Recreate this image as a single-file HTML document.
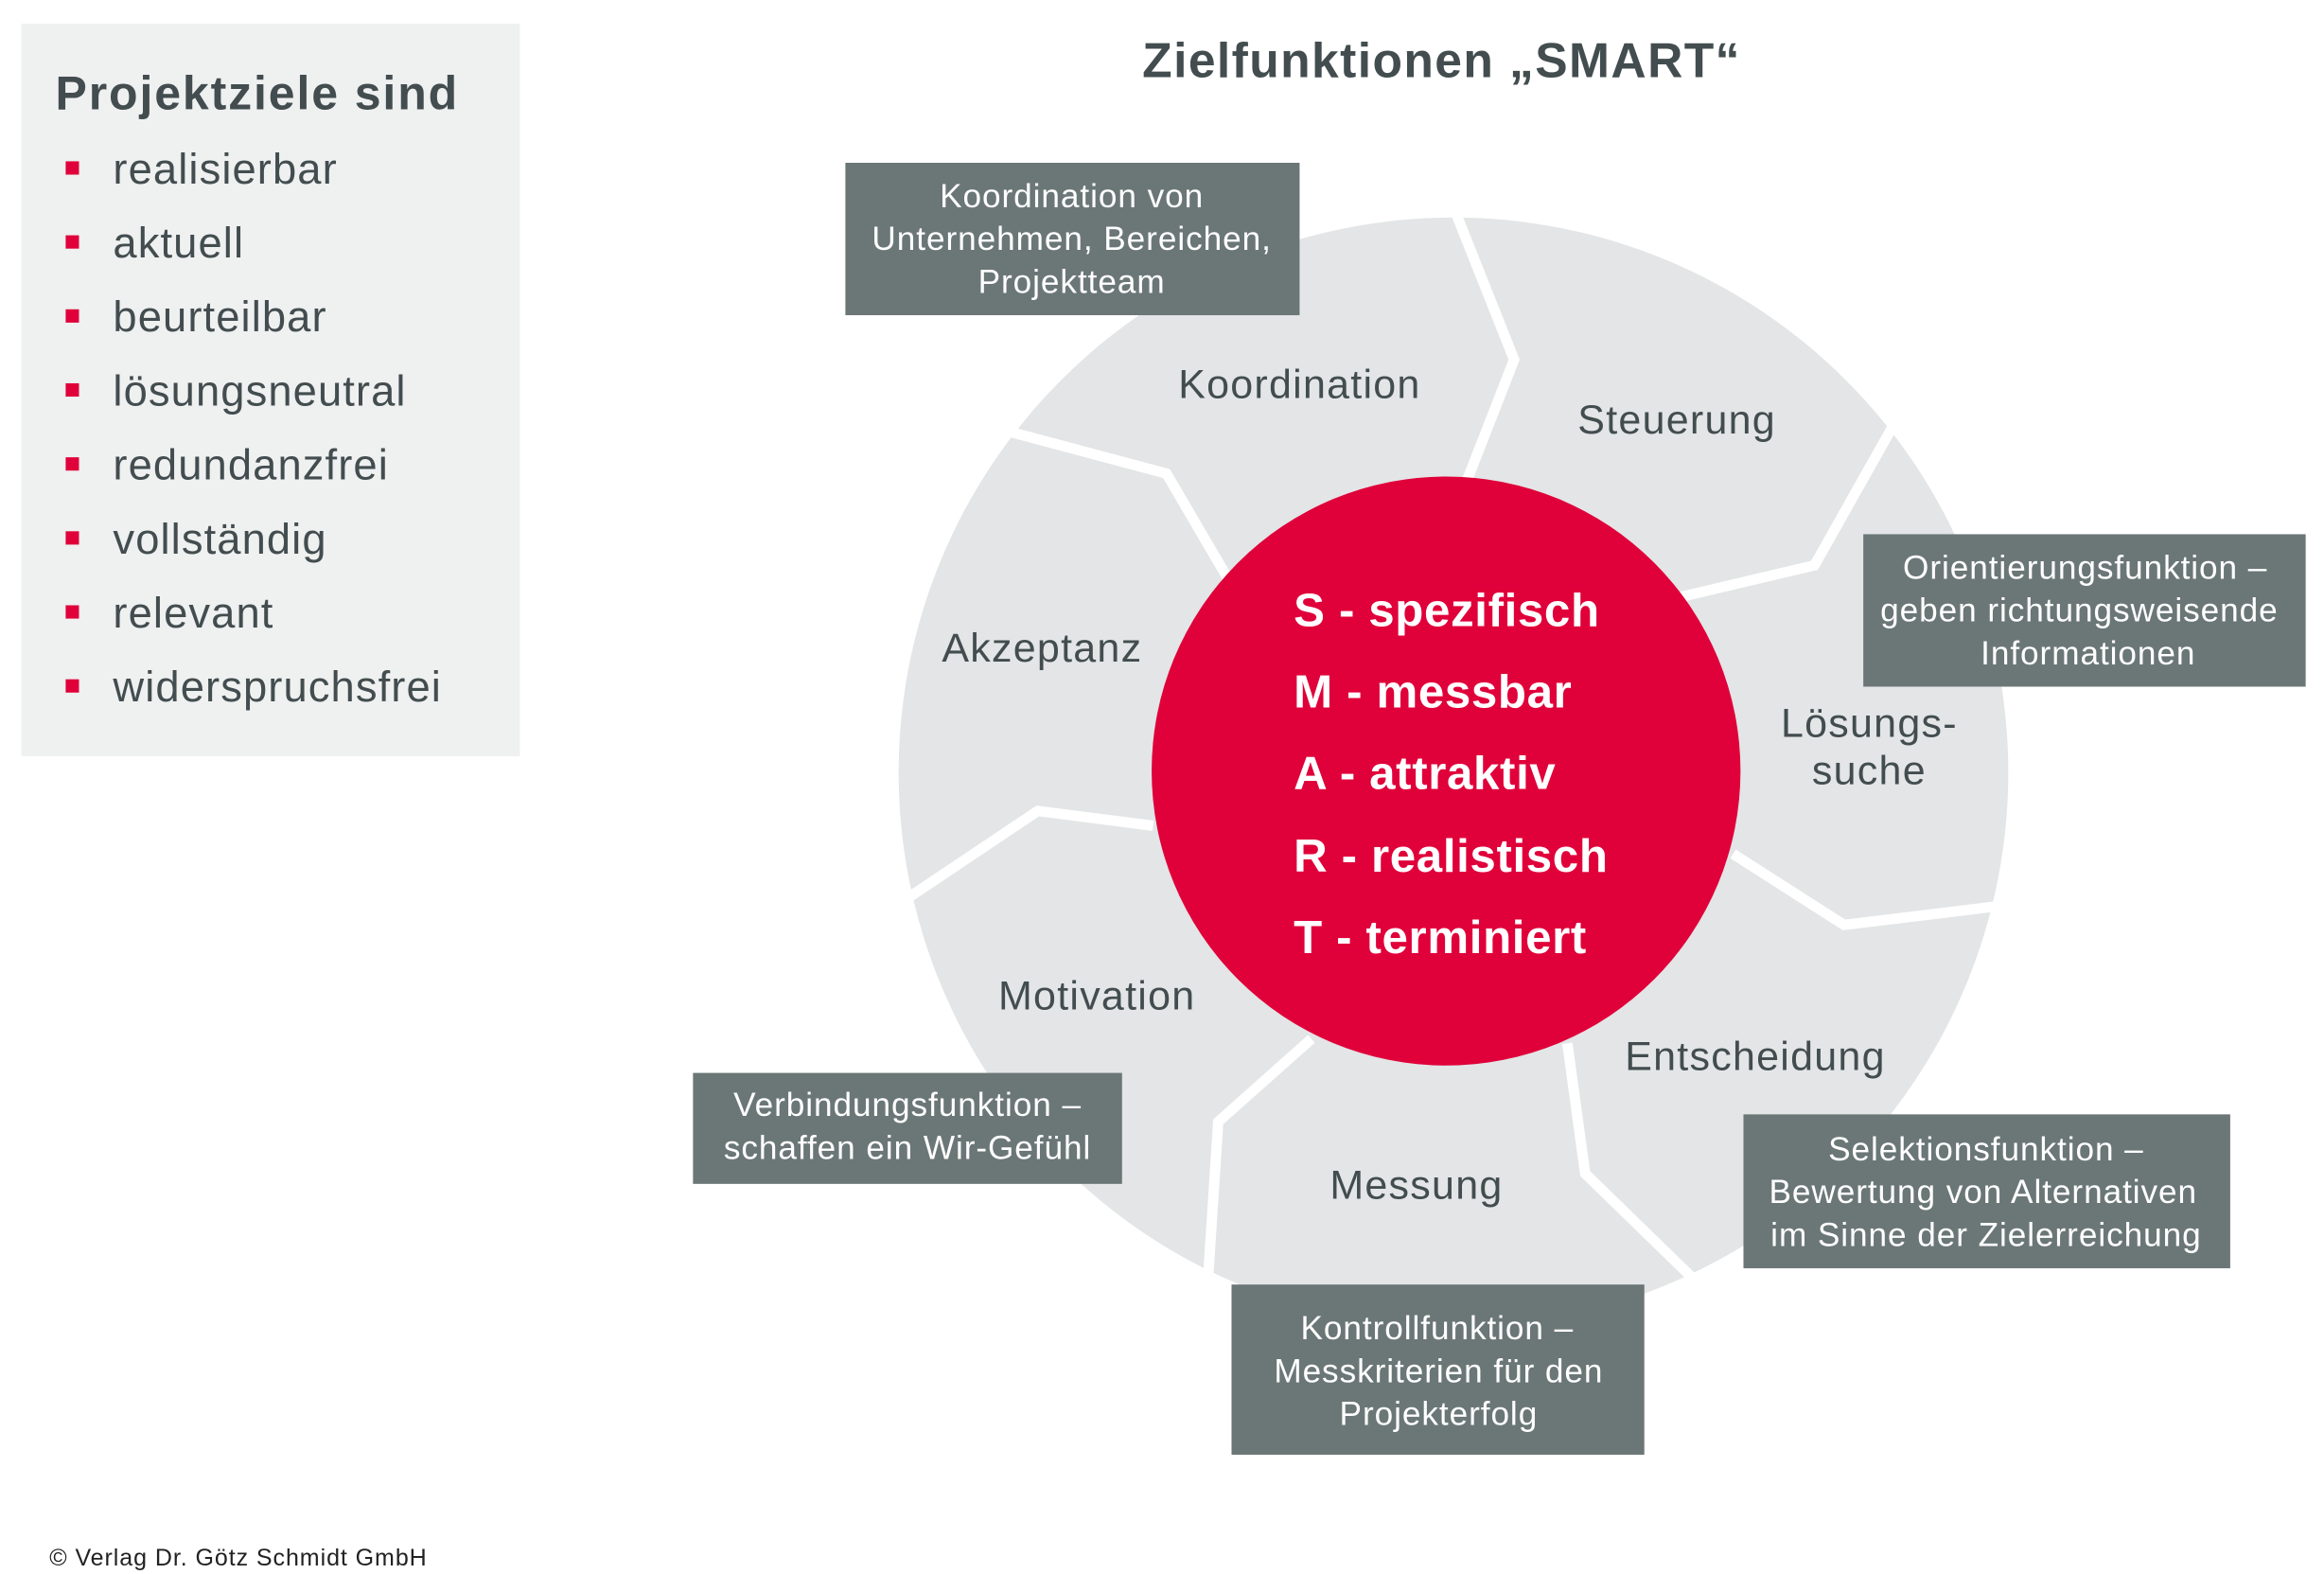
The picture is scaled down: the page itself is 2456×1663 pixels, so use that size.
<!DOCTYPE html>
<html><head><meta charset="utf-8"><style>
html,body{margin:0;padding:0;background:#fff;width:2456px;height:1663px;overflow:hidden}
svg{display:block}
text{font-family:"Liberation Sans",Arial,sans-serif}
</style></head><body>
<svg width="2456" height="1663" viewBox="0 0 1568 1063.6" xmlns="http://www.w3.org/2000/svg">
<rect x="13" y="16" width="337" height="495" fill="#eff0f0"/>
<text x="36" y="74" font-size="32" font-weight="bold" fill="#434d4f" letter-spacing="1.2">Projektziele sind</text>
<g fill="#e0003a">
<rect x="43" y="109" width="9" height="9"/>
<rect x="43" y="159" width="9" height="9"/>
<rect x="43" y="209" width="9" height="9"/>
<rect x="43" y="259" width="9" height="9"/>
<rect x="43" y="309" width="9" height="9"/>
<rect x="43" y="359" width="9" height="9"/>
<rect x="43" y="409" width="9" height="9"/>
<rect x="43" y="459" width="9" height="9"/>
</g>
<g font-size="29" fill="#434d4f" letter-spacing="0.7">
<text x="75" y="124">realisierbar</text>
<text x="75" y="174">aktuell</text>
<text x="75" y="224">beurteilbar</text>
<text x="75" y="274">lösungsneutral</text>
<text x="75" y="324">redundanzfrei</text>
<text x="75" y="374">vollständig</text>
<text x="75" y="424">relevant</text>
<text x="75" y="474">widerspruchsfrei</text>
</g>
<text x="973" y="52" font-size="33" font-weight="bold" fill="#434d4f" text-anchor="middle" letter-spacing="0.9">Zielfunktionen „SMART“</text>
<circle cx="981" cy="522" r="375" fill="#e3e5e6"/>
<g fill="none" stroke="#fff" stroke-width="7" stroke-linejoin="miter">
<polyline points="983,145 1022,243 990,325"/>
<polyline points="1278,288 1225,382 1115,408"/>
<polyline points="1360,611 1245,625 1170,577"/>
<polyline points="1143,864 1070,793 1058,705"/>
<polyline points="815,866 822,758 885,702"/>
<polyline points="612,607 700,548 778,558"/>
<polyline points="682,292 787,320 828,390"/>
</g>
<circle cx="976" cy="521" r="199" fill="#e0003a"/>
<g font-size="31.5" font-weight="bold" fill="#fff" letter-spacing="0.4">
<text x="873" y="423">S - spezifisch</text>
<text x="873" y="478">M - messbar</text>
<text x="873" y="533">A - attraktiv</text>
<text x="873" y="589">R - realistisch</text>
<text x="873" y="644">T - terminiert</text>
</g>
<g font-size="27.5" fill="#434d4f" text-anchor="middle" letter-spacing="0.8">
<text x="877" y="269">Koordination</text>
<text x="1132" y="293">Steuerung</text>
<text x="703" y="447">Akzeptanz</text>
<text x="1262" y="498">Lösungs-</text>
<text x="1262" y="530">suche</text>
<text x="740" y="682">Motivation</text>
<text x="1185" y="723">Entscheidung</text>
<text x="956" y="810">Messung</text>
</g>
<g fill="#6b7776">
<rect x="570" y="110" width="307" height="103"/>
<rect x="1258" y="361" width="299" height="103"/>
<rect x="467" y="725" width="290" height="75"/>
<rect x="1177" y="753" width="329" height="104"/>
<rect x="831" y="868" width="279" height="115"/>
</g>
<g font-size="22.5" fill="#fff" text-anchor="middle" letter-spacing="0.6">
<text x="723" y="140">Koordination von</text>
<text x="723" y="169">Unternehmen, Bereichen,</text>
<text x="723" y="198">Projektteam</text>
<text x="1408" y="391">Orientierungsfunktion –</text>
<text x="1404" y="420">geben richtungsweisende</text>
<text x="1410" y="449">Informationen</text>
<text x="612" y="754">Verbindungsfunktion –</text>
<text x="612" y="783">schaffen ein Wir-Gefühl</text>
<text x="1341" y="784">Selektionsfunktion –</text>
<text x="1339" y="813">Bewertung von Alternativen</text>
<text x="1341" y="842">im Sinne der Zielerreichung</text>
<text x="970" y="905">Kontrollfunktion –</text>
<text x="971" y="934">Messkriterien für den</text>
<text x="971" y="963">Projekterfolg</text>
</g>
<text x="32" y="1058" font-size="16" fill="#222" letter-spacing="0.6">© Verlag Dr. Götz Schmidt GmbH</text>
</svg>
</body></html>
